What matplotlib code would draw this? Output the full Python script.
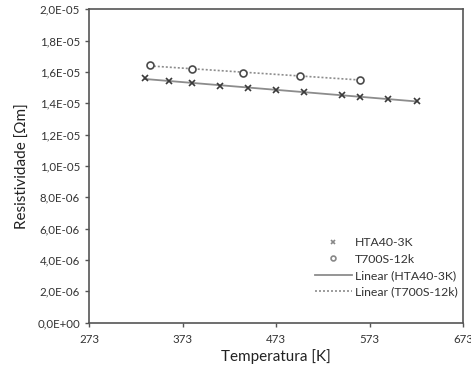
import numpy as np
import matplotlib
matplotlib.use("Agg")
import matplotlib.pyplot as plt
from matplotlib.ticker import FuncFormatter, MultipleLocator, FixedLocator

plt.rcParams['font.family'] = ['Lato', 'DejaVu Sans']

hta_T = [333, 358, 383, 413, 443, 473, 503, 543, 563, 593, 623]
hta_R = [1.559e-5, 1.542e-5, 1.532e-5, 1.514e-5, 1.500e-5, 1.485e-5,
         1.470e-5, 1.453e-5, 1.438e-5, 1.429e-5, 1.415e-5]
t700_T = [338, 383, 438, 498, 563]
t700_R = [1.642e-5, 1.619e-5, 1.597e-5, 1.574e-5, 1.551e-5]
x_ticks = [273, 373, 473, 573, 673]

fig = plt.figure(figsize=(4.71, 3.74), dpi=100)
ax = fig.add_axes([0.189, 0.137, 0.7947, 0.838])

ax.plot(hta_T, hta_R, linestyle='none', marker='x', ms=5, mew=1.2,
        color='#3a3a3a', label='HTA40-3K', zorder=3)
ax.plot(t700_T, t700_R, linestyle='none', marker='o', ms=5, mew=1.2,
        mfc='white', mec='#4a4a4a', label='T700S-12k', zorder=3)

p1 = np.polyfit(hta_T, hta_R, 1)
x1 = np.array([min(hta_T), max(hta_T)])
ax.plot(x1, np.polyval(p1, x1), color='#8c8c8c', lw=1.3,
        label='Linear (HTA40-3K)', zorder=2)
p2 = np.polyfit(t700_T, t700_R, 1)
x2 = np.array([min(t700_T), max(t700_T)])
ax.plot(x2, np.polyval(p2, x2), color='#8c8c8c', lw=1.2, linestyle=(0, (1.2, 1.2)),
        label='Linear (T700S-12k)', zorder=2)

ax.set_xlim(273, 673)
ax.set_ylim(0, 2.0e-5)
ax.xaxis.set_major_locator(FixedLocator(x_ticks))
ax.yaxis.set_major_locator(MultipleLocator(2e-6))
ax.yaxis.set_major_formatter(FuncFormatter(lambda v, p: '{:.1E}'.format(v).replace('.', ',')))
ax.xaxis.set_major_formatter(FuncFormatter(lambda v, p: '%d' % round(v)))

for s in ax.spines.values():
    s.set_color('#555555')
    s.set_linewidth(1.2)
ax.tick_params(direction='out', length=3, width=1, color='#555555',
               labelsize=8.3, labelcolor='#333333')
ax.tick_params(axis='x', pad=5)

ax.set_xlabel('Temperatura [K]', fontsize=11, color='#222222', labelpad=3)
ax.set_ylabel('Resistividade [\u03a9m]', fontsize=11, color='#222222', labelpad=5)

leg = ax.legend(loc='lower right', frameon=False, fontsize=8.8,
                handlelength=3, handletextpad=0.3, labelspacing=0.45,
                markerscale=0.7, bbox_to_anchor=(1.015, 0.045))
for t in leg.get_texts():
    t.set_color('#333333')
for h in leg.legend_handles[:2]:
    h.set_color('#888888')
    h.set_markeredgecolor('#888888')

fig.savefig('out.png', dpi=100)
